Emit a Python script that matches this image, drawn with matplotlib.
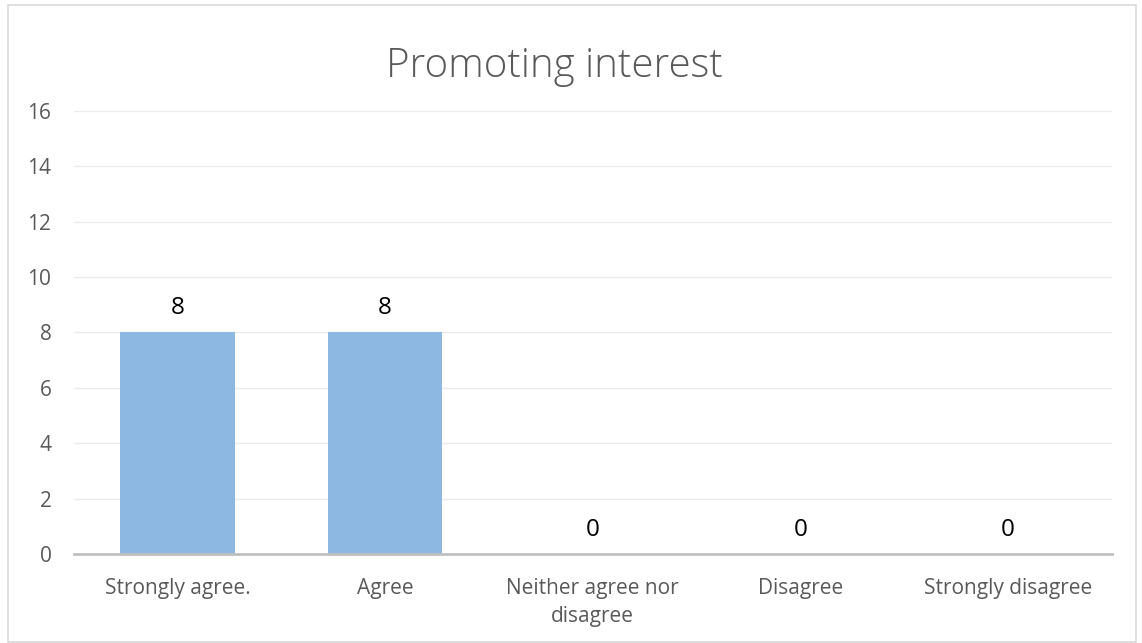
import matplotlib
matplotlib.use('Agg')
import matplotlib.pyplot as plt
from matplotlib.patches import Rectangle

categories = ['Strongly agree.', 'Agree', 'Neither agree nor\ndisagree', 'Disagree', 'Strongly disagree']
counts = [8, 8, 0, 0, 0]
yticks = [0, 2, 4, 6, 8, 10, 12, 14, 16]

plt.rcParams['font.family'] = ['Open Sans', 'DejaVu Sans']

fig = plt.figure(figsize=(11.42, 6.43), dpi=100)
ax = fig.add_axes([0.0645, 0.1384, 0.9092, 0.6894])

x = list(range(len(categories)))
ax.bar(x, counts, width=0.55, color='#8DB8E2', zorder=3)

# value labels above each bar
for xi, v in zip(x, counts):
    ax.annotate(str(v), (xi, v), xytext=(0, 27), textcoords='offset pixels',
                ha='center', va='center_baseline', fontsize=17.5, color='black')

ax.set_xlim(-0.5, len(categories) - 0.5)
ax.set_ylim(0, 16)
ax.set_yticks(yticks)
ax.set_xticks(x)
ax.set_xticklabels(categories, fontsize=15, color='#595959', linespacing=1.45)
ax.tick_params(axis='y', labelsize=15, labelcolor='#595959', length=0, pad=16)
ax.tick_params(axis='x', length=0, pad=17)
ax.grid(axis='y', color='#EBEBEB', linewidth=1, zorder=0)

for spine in ['top', 'right', 'left']:
    ax.spines[spine].set_visible(False)
ax.spines['bottom'].set_color('#BFBFBF')
ax.spines['bottom'].set_linewidth(2)
ax.spines['bottom'].set_zorder(4)

fig.text(0.4856, 0.881, 'Promoting interest', ha='center', va='baseline',
         fontsize=29, color='#595959', fontweight='light')

fig.patches.append(Rectangle((8 / 1142, 0.002), 1128 / 1142, 0.99, transform=fig.transFigure,
                             fill=False, edgecolor='#D9D9D9', linewidth=1.2))

fig.savefig('out.png', dpi=100)
